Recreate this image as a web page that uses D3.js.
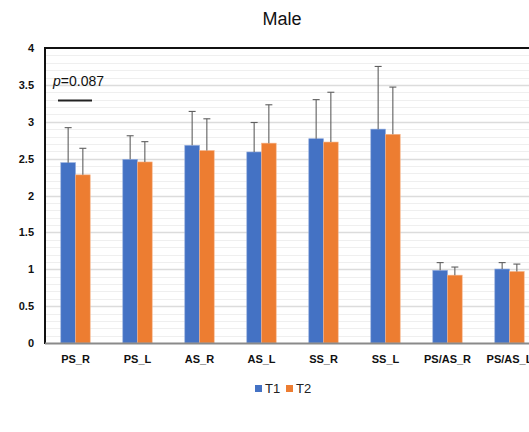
<!DOCTYPE html>
<html><head><meta charset="utf-8">
<script src="https://cdn.jsdelivr.net/npm/d3@7"></script>
<style>body{margin:0;background:#fff;} svg{display:block;}</style>
</head><body>
<svg id="c" width="529" height="432"></svg>
<script>
const categories = ["PS_R","PS_L","AS_R","AS_L","SS_R","SS_L","PS/AS_R","PS/AS_L"];
const seriesNames = ["T1","T2"];
const t1Values = [2.445, 2.49, 2.68, 2.59, 2.77, 2.90, 0.985, 1.003];
const t2Values = [2.28, 2.455, 2.61, 2.71, 2.725, 2.83, 0.92, 0.97];
const t1ErrTop = [2.92, 2.81, 3.14, 2.99, 3.30, 3.75, 1.09, 1.09];
const t2ErrTop = [2.64, 2.73, 3.04, 3.23, 3.40, 3.47, 1.03, 1.07];
const yTicks = [0, 0.5, 1, 1.5, 2, 2.5, 3, 3.5, 4];
const colors = ["#4472C4", "#ED7D31"];

(function () {
const svg = d3.select("#c");
const font = "'Liberation Sans', Arial, sans-serif";
const pLeft = 45, pTop = 48, pBottom = 343, pRight = 540.5;

const x = d3.scaleBand().domain(categories).range([44.5, pRight]).paddingInner(0).paddingOuter(0);
const y = d3.scaleLinear().domain([0, 4]).range([pBottom, pTop]);
const barW = 14.7;

// gridlines
const minor = d3.range(0, 40).map(i => i / 10).filter(v => Math.abs(v * 2 - Math.round(v * 2)) > 1e-6);
svg.append("g").selectAll("line").data(minor).join("line")
  .attr("x1", pLeft).attr("x2", 529)
  .attr("y1", d => Math.round(y(d)) + 0.5).attr("y2", d => Math.round(y(d)) + 0.5)
  .attr("stroke", "#efefef").attr("stroke-width", 1);
svg.append("g").selectAll("line").data(yTicks.filter(v => v > 0 && v < 4)).join("line")
  .attr("x1", pLeft).attr("x2", 529)
  .attr("y1", d => Math.round(y(d)) + 0.5).attr("y2", d => Math.round(y(d)) + 0.5)
  .attr("stroke", "#dcdcdc").attr("stroke-width", 1.3);

// bars
const data = categories.map((c, i) => [
  {c, s: 0, v: t1Values[i], e: t1ErrTop[i]},
  {c, s: 1, v: t2Values[i], e: t2ErrTop[i]}
]).flat();

const bx = d => x(d.c) + x.bandwidth() / 2 + (d.s === 0 ? -barW : 0);
svg.append("g").selectAll("rect").data(data).join("rect")
  .attr("x", bx).attr("width", barW)
  .attr("y", d => y(d.v)).attr("height", d => y(0) - y(d.v))
  .attr("fill", d => colors[d.s])
  .attr("stroke", d => d.s === 0 ? "#8fa9dc" : "#f5b58c").attr("stroke-width", 0.6);

// error bars
const eg = svg.append("g").attr("stroke", "#5f5f5f").attr("stroke-width", 1.1);
eg.selectAll("line.v").data(data).join("line").attr("class", "v")
  .attr("x1", d => bx(d) + barW / 2).attr("x2", d => bx(d) + barW / 2)
  .attr("y1", d => y(d.v)).attr("y2", d => y(d.e));
eg.selectAll("line.h").data(data).join("line").attr("class", "h")
  .attr("x1", d => bx(d) + barW / 2 - 3.5).attr("x2", d => bx(d) + barW / 2 + 3.5)
  .attr("y1", d => y(d.e)).attr("y2", d => y(d.e));

// axes lines
svg.append("line").attr("x1", pLeft).attr("x2", 529).attr("y1", pTop).attr("y2", pTop)
  .attr("stroke", "#111").attr("stroke-width", 2);
svg.append("line").attr("x1", pLeft).attr("x2", pLeft).attr("y1", pTop - 1).attr("y2", pBottom + 1)
  .attr("stroke", "#111").attr("stroke-width", 2);
svg.append("line").attr("x1", pLeft).attr("x2", 529).attr("y1", pBottom + 0.5).attr("y2", pBottom + 0.5)
  .attr("stroke", "#8a8a8a").attr("stroke-width", 2);

// y tick labels
const yAxis = d3.axisLeft(y).tickValues(yTicks).tickSize(0).tickPadding(0).tickFormat(d3.format("~g"));
const ya = svg.append("g").attr("transform", "translate(34,0)").call(yAxis);
ya.select(".domain").remove();
ya.selectAll("text").attr("font-family", font).attr("font-size", 11).attr("font-weight", "bold").attr("fill", "#111");

// x labels
const xAxis = d3.axisBottom(x).tickSize(0).tickPadding(0);
const xa = svg.append("g").attr("transform", `translate(0,${pBottom + 12})`).call(xAxis);
xa.select(".domain").remove();
xa.selectAll("text").attr("font-family", font).attr("font-size", 11).attr("font-weight", "bold").attr("fill", "#111");

// title
svg.append("text").attr("x", 282).attr("y", 25).attr("text-anchor", "middle")
  .attr("font-family", font).attr("font-size", 18).attr("fill", "#111").text("Male");

// annotation
const ann = svg.append("text").attr("x", 53).attr("y", 86).attr("font-family", font).attr("font-size", 14).attr("fill", "#111");
ann.append("tspan").attr("font-style", "italic").text("p");
ann.append("tspan").text("=0.087");
svg.append("line").attr("x1", 58).attr("x2", 92).attr("y1", 100.5).attr("y2", 100.5)
  .attr("stroke", "#222").attr("stroke-width", 2);

// legend
const lg = svg.append("g").selectAll("g").data(seriesNames).join("g")
  .attr("transform", (d, i) => `translate(${255 + i * 31},0)`);
lg.append("rect").attr("x", 0).attr("y", 385).attr("width", 7).attr("height", 7).attr("fill", (d, i) => colors[i]);
lg.append("text").attr("x", 10).attr("y", 393).attr("font-family", font).attr("font-size", 13).attr("fill", "#222").text(d => d);
})();
</script>
</body></html>
